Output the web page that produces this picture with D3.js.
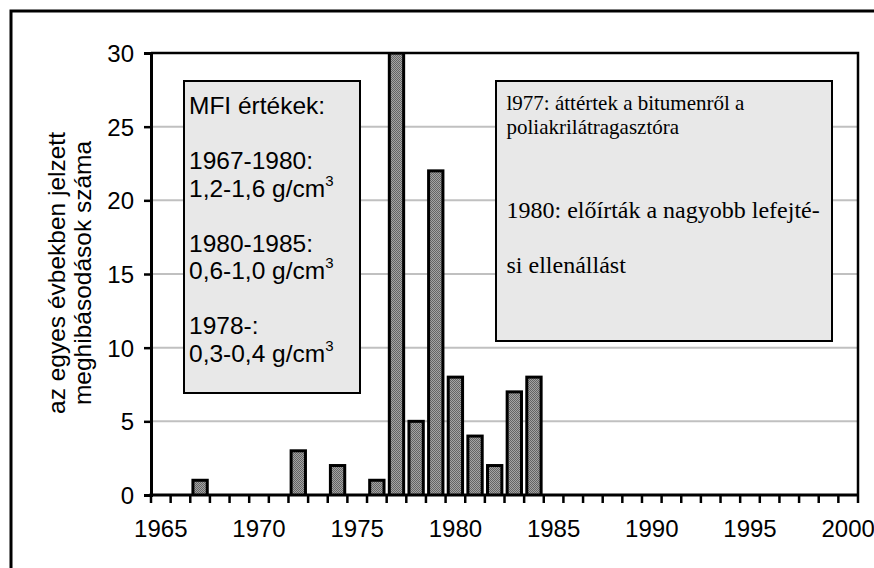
<!DOCTYPE html>
<html>
<head>
<meta charset="utf-8">
<script src="https://cdn.jsdelivr.net/npm/d3@7"></script>
<style>
  body { margin: 0; background: #fff; }
  svg { display: block; }
</style>
</head>
<body>
<svg id="chart"></svg>
<script>
// years on the category axis and the failures counted per year
let years = d3.range(1965, 2001)
let failYears = [1967, 1972, 1974, 1976, 1977, 1978, 1979, 1980, 1981, 1982, 1983, 1984]
let failCounts = [1, 3, 2, 1, 30, 5, 22, 8, 4, 2, 7, 8]
let yTicks = [0, 5, 10, 15, 20, 25, 30]
let xLabels = [1965, 1970, 1975, 1980, 1985, 1990, 1995, 2000]

let yTitle = ["az egyes évbekben jelzett", "meghibásodások száma"]
let mfiLines = [
    {t: "MFI értékek:", sup: false},
    null,
    {t: "1967-1980:", sup: false},
    {t: "1,2-1,6 g/cm", sup: true},
    null,
    {t: "1980-1985:", sup: false},
    {t: "0,6-1,0 g/cm", sup: true},
    null,
    {t: "1978-:", sup: false},
    {t: "0,3-0,4 g/cm", sup: true}
]
let noteLines = [
    {t: "l977: áttértek a bitumenről a", size: 21, y: 110},
    {t: "poliakrilátragasztóra", size: 21, y: 134},
    {t: "1980: előírták a nagyobb lefejté-", size: 24, y: 218},
    {t: "si ellenállást", size: 24, y: 272.5}
]

let w = 874, h = 568
let pLeft = 151, pRight = 858, pTop = 53, pBottom = 495
let sans = "Liberation Sans, Arial, sans-serif"

let svg = d3.select("#chart").attr("width", w).attr("height", h)

let defs = svg.append("defs")
let pat = defs.append("pattern")
    .attr("id", "dots")
    .attr("width", 2).attr("height", 2)
    .attr("patternUnits", "userSpaceOnUse")
pat.append("rect").attr("width", 2).attr("height", 2).attr("fill", "#a4a4a4")
pat.append("rect").attr("width", 1).attr("height", 1).attr("fill", "#646464")
pat.append("rect").attr("x", 1).attr("y", 1).attr("width", 1).attr("height", 1).attr("fill", "#646464")

defs.append("clipPath").attr("id", "plotclip")
    .append("rect").attr("x", pLeft).attr("y", pTop)
    .attr("width", pRight - pLeft).attr("height", pBottom - pTop)

// outer frame, runs off the right and bottom of the picture
svg.append("rect")
    .attr("x", 11).attr("y", 11)
    .attr("width", 900).attr("height", 600)
    .attr("fill", "none").attr("stroke", "#000").attr("stroke-width", 3)

let x = d3.scaleBand().domain(years).range([pLeft, pRight]).paddingInner(0.27).paddingOuter(0.135)
let y = d3.scaleLinear().domain([0, 30]).range([pBottom, pTop])

// gridlines
svg.append("g")
    .selectAll("line")
    .data(yTicks.filter(d => d > 0 && d < 30))
    .enter()
    .append("line")
    .attr("x1", pLeft).attr("x2", pRight)
    .attr("y1", d => y(d)).attr("y2", d => y(d))
    .attr("stroke", "#c0c0c0").attr("stroke-width", 2)

// bars
let barData = failYears.map((yr, i) => ({year: yr, n: failCounts[i]}))
svg.append("g")
    .attr("clip-path", "url(#plotclip)")
    .selectAll("rect")
    .data(barData)
    .enter()
    .append("rect")
    .attr("x", d => x(d.year))
    .attr("y", d => y(d.n))
    .attr("width", x.bandwidth())
    .attr("height", d => pBottom - y(d.n) + 2)
    .attr("fill", "url(#dots)")
    .attr("stroke", "#000").attr("stroke-width", 3)

// plot border top + right
svg.append("path")
    .attr("d", `M${pLeft},${pTop}H${pRight}V${pBottom}`)
    .attr("fill", "none").attr("stroke", "#000").attr("stroke-width", 2.5)

// y axis
let yAxis = d3.axisLeft(y).tickValues(yTicks).tickSize(7).tickPadding(10)
let gy = svg.append("g").attr("transform", `translate(${pLeft},0)`).call(yAxis)
gy.select(".domain").attr("stroke-width", 3)
gy.selectAll(".tick line").attr("stroke-width", 2.5)
gy.selectAll(".tick text")
    .attr("font-family", sans)
    .attr("font-size", 24).attr("fill", "#000").attr("dy", "0.36em")

// x axis: ticks between categories, labels every 5 years
let bx = d3.scaleLinear().domain([0, years.length]).range([pLeft, pRight])
let gx = svg.append("g")
gx.append("line")
    .attr("x1", pLeft - 1.5).attr("x2", pRight)
    .attr("y1", pBottom).attr("y2", pBottom)
    .attr("stroke", "#000").attr("stroke-width", 3)
gx.selectAll(".xt")
    .data(d3.range(years.length + 1))
    .enter()
    .append("line")
    .attr("x1", d => bx(d)).attr("x2", d => bx(d))
    .attr("y1", pBottom).attr("y2", pBottom + 8)
    .attr("stroke", "#000").attr("stroke-width", 2.5)
gx.selectAll("text")
    .data(xLabels)
    .enter()
    .append("text")
    .attr("x", d => x(d) + x.bandwidth() / 2)
    .attr("y", 537)
    .attr("text-anchor", "middle")
    .attr("font-family", sans)
    .attr("font-size", 24)
    .text(d => d)

// y title
let yt = svg.append("g").attr("transform", "translate(0,273) rotate(-90)")
yt.selectAll("text")
    .data(yTitle)
    .enter()
    .append("text")
    .attr("x", 0)
    .attr("y", (d, i) => 65 + i * 26)
    .attr("text-anchor", "middle")
    .attr("font-family", sans)
    .attr("font-size", 24.5)
    .text(d => d)

// MFI box
svg.append("rect")
    .attr("x", 184).attr("y", 81).attr("width", 176).attr("height", 312)
    .attr("fill", "#e8e8e8").attr("stroke", "#000").attr("stroke-width", 2)
let mfi = svg.append("g")
    .attr("font-family", sans)
mfiLines.forEach((ln, i) => {
    if (!ln) return
    let t = mfi.append("text")
        .attr("x", 189).attr("y", 114.2 + i * 27.5)
        .attr("font-size", 24.5)
        .text(ln.t)
    if (ln.sup) {
        t.append("tspan").attr("dy", -11).attr("font-size", 15).text("3")
    }
})

// note box
svg.append("rect")
    .attr("x", 496).attr("y", 81).attr("width", 336).attr("height", 260)
    .attr("fill", "#e8e8e8").attr("stroke", "#000").attr("stroke-width", 2)
svg.append("g")
    .selectAll("text")
    .data(noteLines)
    .enter()
    .append("text")
    .attr("x", 506.5)
    .attr("y", d => d.y)
    .attr("font-family", "Liberation Serif, Times New Roman, serif")
    .attr("font-size", d => d.size)
    .text(d => d.t)
</script>
</body>
</html>
